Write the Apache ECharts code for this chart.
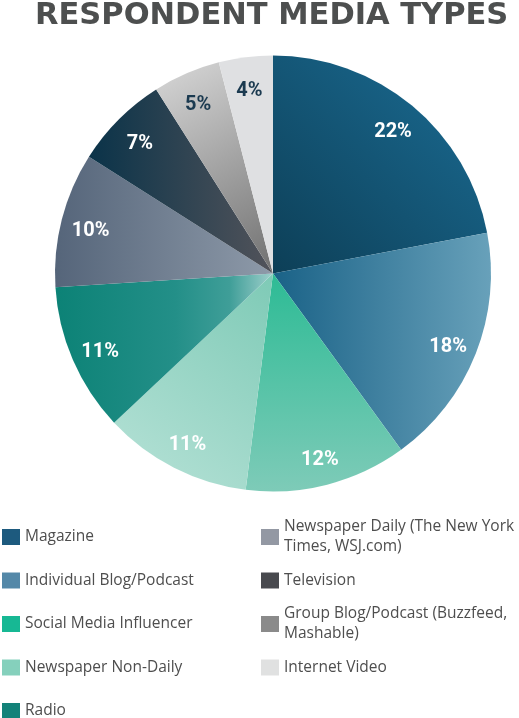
<!DOCTYPE html>
<html>
<head>
<meta charset="utf-8">
<script src="https://cdn.jsdelivr.net/npm/echarts@6/dist/echarts.min.js"></script>
<style>
html,body{margin:0;padding:0;background:#fff;}
#c{width:519px;height:718px;}
</style>
</head>
<body>
<div id="c"></div>
<script>
var titleText = 'RESPONDENT MEDIA TYPES';
var categories = [
  'Magazine',
  'Individual Blog/Podcast',
  'Social Media Influencer',
  'Newspaper Non-Daily',
  'Radio',
  'Newspaper Daily (The New York\nTimes, WSJ.com)',
  'Television',
  'Group Blog/Podcast (Buzzfeed,\nMashable)',
  'Internet Video'
];
var values = [22, 18, 12, 11, 11, 10, 7, 5, 4];
var legendColors = ['#1d5a7e', '#5488a8', '#17b894', '#85d0bc', '#138279', '#9398a3', '#48494e', '#8a8a8a', '#e0e1e1'];
var labelColors = ['#ffffff', '#ffffff', '#ffffff', '#ffffff', '#ffffff', '#ffffff', '#ffffff', '#1b3a50', '#1b3a50'];

function lg(x1, y1, x2, y2, stops) {
  return new echarts.graphic.LinearGradient(x1, y1, x2, y2, stops.map(function (s) { return { offset: s[0], color: s[1] }; }));
}
var fills = [
  lg(1, 0, 0, 1, [[0, '#1b6d95'], [1, '#0d3f57']]),
  lg(0, 0, 1, 0, [[0, '#1a6287'], [1, '#68a1ba']]),
  lg(0, 0, 0, 1, [[0, '#2dbb95'], [1, '#7ecbb8']]),
  lg(1, 0, 0, 1, [[0, '#7ecab6'], [1, '#b7e2d7']]),
  lg(0, 0, 1, 0, [[0, '#0c8276'], [0.55, '#238f88'], [0.8, '#3f9e98'], [1, '#a0d0cc']]),
  lg(0, 0, 1, 0, [[0, '#55657a'], [1, '#8e9aa9']]),
  lg(0, 0, 1, 0, [[0, '#0a3349'], [1, '#52535a']]),
  lg(0, 0, 1, 1, [[0, '#d8d8d8'], [1, '#707070']]),
  lg(0, 0, 1, 1, [[0, '#dfe0e2'], [1, '#dfe0e2']])
];

var center = [273, 273.5];
var R = 218;

var pieData = categories.map(function (n, i) {
  return { name: n, value: values[i], itemStyle: { color: fills[i] } };
});
var labelData = categories.map(function (n, i) {
  return {
    name: n, value: values[i],
    itemStyle: { color: 'rgba(0,0,0,0)' },
    label: { color: labelColors[i] }
  };
});

var legends = categories.map(function (n, i) {
  var col = i < 5 ? 0 : 1;
  var row = col ? i - 5 : i;
  var twoLine = n.indexOf('\n') >= 0;
  return {
    orient: 'vertical',
    left: col ? 261 : 2,
    top: 527 + row * 43.5 - (twoLine ? 20 : 0),
    itemWidth: 18,
    itemHeight: 16,
    itemGap: 0,
    selectedMode: false,
    padding: 0,
    icon: 'rect',
    data: [{
      name: n,
      itemStyle: { color: legendColors[i] },
      textStyle: twoLine ? { padding: [20, 0, 0, 0] } : {}
    }],
    textStyle: {
      fontFamily: 'Open Sans',
      fontSize: 15.5,
      color: '#4e4e4e',
      lineHeight: 20
    }
  };
});

var chart = echarts.init(document.getElementById('c'), null, { renderer: 'canvas' });
chart.setOption({
  animation: false,
  title: {
    text: titleText,
    left: 30,
    top: -4,
    textStyle: {
      fontFamily: 'DejaVu Sans',
      fontWeight: 'bold',
      fontSize: 30.5,
      color: '#4d4f4f'
    }
  },
  legend: legends,
  series: [
    {
      type: 'pie',
      center: center,
      radius: [0, R],
      startAngle: 90,
      clockwise: true,
      silent: true,
      label: { show: false },
      labelLine: { show: false },
      itemStyle: { borderWidth: 0 },
      data: pieData
    },
    {
      type: 'pie',
      center: center,
      radius: [R * 0.7, R],
      startAngle: 90,
      clockwise: true,
      silent: true,
      legendHoverLink: false,
      label: {
        show: true,
        position: 'inside',
        formatter: '{c}%',
        fontFamily: 'Roboto',
        fontWeight: 'bold',
        fontSize: 20,
        offset: [0, 4]
      },
      labelLine: { show: false },
      itemStyle: { borderWidth: 0 },
      data: labelData
    }
  ]
});
</script>
</body>
</html>
